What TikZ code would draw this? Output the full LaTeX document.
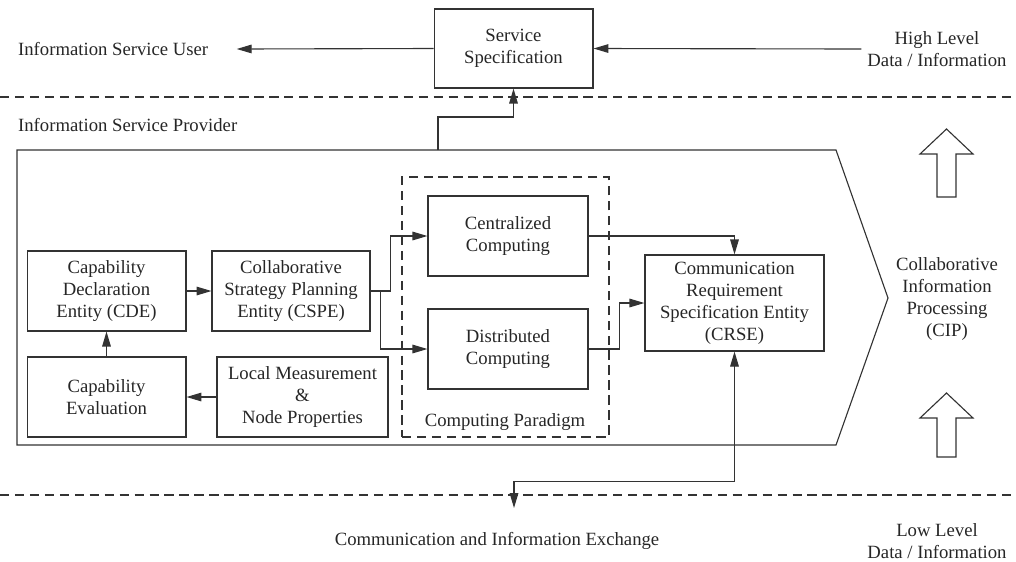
\documentclass[tikz,border=0pt]{standalone}
\usepackage{fontspec}
\setmainfont{Liberation Serif}
\usetikzlibrary{arrows.meta, positioning}

\begin{document}
\begin{tikzpicture}[
    x=0.535pt, y=-0.535pt,
    line width=0.6pt, draw=black!80, text=black!85,
    box/.style={rectangle, draw, minimum width=85pt, minimum height=42.8pt, align=center, inner sep=2pt},
    label/.style={align=center, inner sep=3pt},
    arrow/.style={-{Triangle[length=8pt, width=4.6pt]}},
    dashline/.style={dash pattern=on 5pt off 3pt},
    font=\fontsize{10}{11.8}\selectfont
]

\useasboundingbox (0,0) rectangle (1016,561);

% Top level
\node[box, minimum height=42.3pt] (svc) at (513.5,48.5) {Service\\Specification};
\node[label, anchor=west] (user) at (12,49) {Information Service User};
\node[label] (high) at (937,49) {High Level\\Data / Information};

\draw[arrow] (svc.west) -- ([xshift=12pt]user.east);
\draw[arrow] (high.west) -- (svc.east);

% Separators
\draw[dashline] (0,97) -- (1016,97);
\draw[dashline] (0,495) -- (1016,495);

\node[label, anchor=west] (provider) at (12,125) {Information Service Provider};

% CIP pentagon
\draw (17,150) -- (836,150) -- (888,298) -- (836,445) -- (17,445) -- cycle;
\coordinate (cipTop) at (438,150);
\node[label] (cip) at (947,299) {Collaborative\\Information\\Processing\\(CIP)};

% Block arrows
\draw (937,197) -- (937,154) -- (920,154) -- (946.5,129) -- (973,154) -- (956,154) -- (956,197) -- cycle;
\draw (937,457) -- (937,418) -- (920,418) -- (946.5,393) -- (973,418) -- (956,418) -- (956,457) -- cycle;

% Inner entities
\node[box] (cde) at (106.5,291) {Capability\\Declaration\\Entity (CDE)};
\node[box, minimum width=84.5pt] (cspe) at (291,291) {Collaborative\\Strategy Planning\\Entity (CSPE)};
\node[box] (capeval) at (106.5,397) {Capability\\Evaluation};
\node[box, minimum width=91.5pt] (local) at (302.5,397) {Local Measurement\\\&\\Node Properties};

% Computing paradigm
\node[rectangle, draw, dashline, minimum width=110.7pt, minimum height=139.1pt] (paradigm) at (505.5,307) {};
\node[label] (paralabel) at (505,422) {Computing Paradigm};
\node[box, minimum width=85.6pt] (central) at (508,236) {Centralized\\Computing};
\node[box, minimum width=85.6pt] (distrib) at (508,349) {Distributed\\Computing};

\node[box, minimum width=95.8pt, minimum height=51.4pt] (crse) at (734.5,303) {Communication\\Requirement\\Specification Entity\\(CRSE)};

% Arrows
\draw[arrow] (cde.east) -- (cspe.west);
\draw[arrow] (capeval.north) -- (cde.south);
\draw[arrow] (local.west) -- (capeval.east);
\draw[arrow] (cspe.east) -- ++(20,0) |- (central.west);
\draw[arrow] (cspe.east) -- ++(10,0) |- (distrib.west);
\draw[arrow] (central.east) -| (crse.north);
\draw[arrow] (distrib.east) -- ++(31,0) |- (crse.west);
\draw[arrow] (cipTop) -- ++(0,-33) -| (svc.south);

% Exchange
\coordinate (xtip) at (514,508);
\draw[{Triangle[length=8pt, width=4.6pt]}-{Triangle[length=8pt, width=4.6pt]}] (crse.south) -- ++(0,130) -| (xtip);
\node[label] (exchange) at (497,541) {Communication and Information Exchange};
\node[label] (low) at (937,541) {Low Level\\Data / Information};

\end{tikzpicture}
\end{document}
